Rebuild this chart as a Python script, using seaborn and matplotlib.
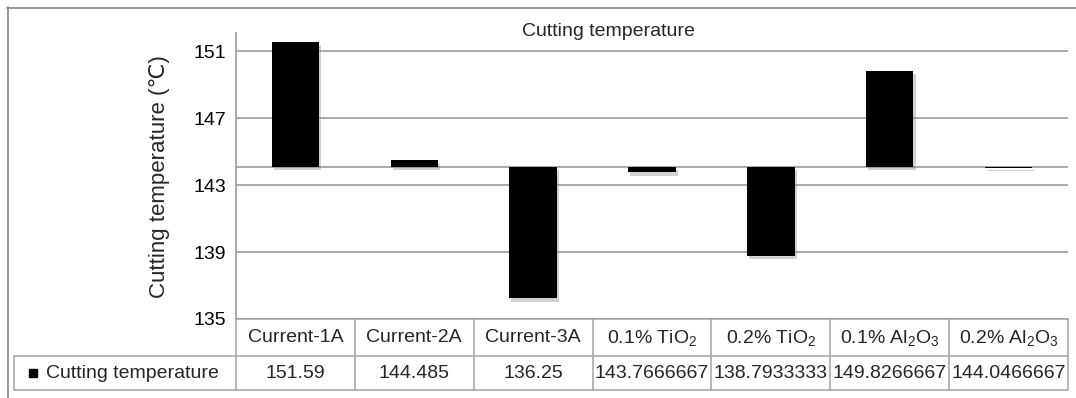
import numpy as np
import pandas as pd
import matplotlib
matplotlib.use("Agg")
import matplotlib.pyplot as plt
import matplotlib.patheffects as pe
import matplotlib.transforms as mtransforms
from matplotlib.lines import Line2D
from matplotlib.patches import Rectangle
import seaborn as sns

# ---- data ----
categories = ["Current-1A", "Current-2A", "Current-3A",
              "0.1% TiO$_2$", "0.2% TiO$_2$",
              "0.1% Al$_2$O$_3$", "0.2% Al$_2$O$_3$"]
temperatures = [151.59, 144.485, 136.25, 143.7666667,
                138.7933333, 149.8266667, 144.0466667]
value_labels = ["151.59", "144.485", "136.25", "143.7666667",
                "138.7933333", "149.8266667", "144.0466667"]
y_ticks = [135, 139, 143, 147, 151]
series_name = "Cutting temperature"
y_label = "Cutting temperature (\u2103)"
chart_title = "Cutting temperature"

# ---- style ----
sns.set_style("white")
plt.rcParams["font.family"] = ["Liberation Sans", "DejaVu Sans"]
plt.rcParams["mathtext.fontset"] = "custom"
plt.rcParams["mathtext.rm"] = "Liberation Sans"
plt.rcParams["mathtext.it"] = "Liberation Sans:italic"
plt.rcParams["mathtext.default"] = "regular"

GRID = "#a3a3a3"
FS = 14

W, H = 1076, 398
fig = plt.figure(figsize=(W / 100, H / 100), dpi=100)

def fx(px):
    return px / W

def fy(py):
    return 1 - py / H

ax_left, ax_right, ax_top, ax_bottom = 236, 1068, 33, 319
ax = fig.add_axes([fx(ax_left), fy(ax_bottom), fx(ax_right - ax_left),
                   fy(ax_top) - fy(ax_bottom)])

# bars hang from the horizontal axis, which crosses at the series mean
baseline = float(np.mean(temperatures))
df = pd.DataFrame({"category": categories,
                   "delta": np.array(temperatures) - baseline})

sns.barplot(data=df, x="category", y="delta", bottom=baseline,
            color="black", saturation=1, width=0.4, errorbar=None,
            ax=ax, zorder=3)

shadow = [pe.SimplePatchShadow(offset=(1.5, -2.5), shadow_rgbFace="#808080",
                               alpha=0.35), pe.Normal()]
for patch in ax.patches:
    patch.set_path_effects(shadow)
    patch.set_edgecolor("none")

ax.set_xlim(-0.5, len(categories) - 0.5)
ax.set_ylim(135, 152.1)
ax.set_yticks(y_ticks)
ax.set_yticklabels([str(t) for t in y_ticks], fontsize=FS)
ax.tick_params(axis="y", length=0, pad=7, colors="black")
ax.tick_params(axis="x", length=0, labelbottom=False)
ax.set_xlabel("")
ax.set_ylabel("")
ax.yaxis.grid(True, color=GRID, lw=1.3, zorder=0)
ax.xaxis.grid(False)
ax.set_axisbelow(True)
for s in ("top", "right", "bottom"):
    ax.spines[s].set_visible(False)
ax.spines["left"].set_color(GRID)
ax.spines["left"].set_linewidth(1.3)
ax.axhline(baseline, color=GRID, lw=1.3, zorder=2)

# title and axis label
fig.text(fx(608), fy(31), chart_title, ha="center", va="center", fontsize=FS)
fig.text(fx(160), fy(177), y_label, ha="center", va="center",
         rotation=90, fontsize=16)

# ---- data table under the plot ----
blend = mtransforms.blended_transform_factory(ax.transData, fig.transFigure)
row_top, row_mid, row_bot = 319, 356, 390
n = len(categories)
lw_t = 1.1

def hline(x0, x1, y, trans):
    fig.add_artist(Line2D([x0, x1], [fy(y), fy(y)], transform=trans,
                          color=GRID, lw=lw_t))

def vline(x, y0, y1, trans):
    fig.add_artist(Line2D([x, x], [fy(y0), fy(y1)], transform=trans,
                          color=GRID, lw=lw_t))

hline(-0.5, n - 0.5, row_top, blend)
hline(fx(14), fx(ax_left), row_mid, fig.transFigure)
hline(-0.5, n - 0.5, row_mid, blend)
hline(fx(14), fx(ax_left), row_bot, fig.transFigure)
hline(-0.5, n - 0.5, row_bot, blend)
vline(fx(14), row_mid, row_bot, fig.transFigure)
for i in range(n + 1):
    vline(i - 0.5, row_top, row_bot, blend)

for i, (cat, lab) in enumerate(zip(categories, value_labels)):
    fig.text(i, fy((row_top + row_mid) / 2), cat, transform=blend,
             ha="center", va="center", fontsize=FS)
    fig.text(i, fy((row_mid + row_bot) / 2), lab, transform=blend,
             ha="center", va="center", fontsize=FS)

# legend key in the table's row header
fig.add_artist(Rectangle((fx(29), fy(377)), fx(8), fy(369) - fy(377),
                         transform=fig.transFigure, color="black"))
fig.text(fx(46), fy((row_mid + row_bot) / 2), series_name,
         ha="left", va="center", fontsize=FS)

# chart area border
fig.add_artist(Line2D([fx(7), 1], [fy(7.5), fy(7.5)], transform=fig.transFigure,
                      color="#8f8f8f", lw=1.3))
fig.add_artist(Line2D([fx(7.5), fx(7.5)], [fy(7), 0], transform=fig.transFigure,
                      color="#8f8f8f", lw=1.3))

fig.savefig("out.png", dpi=100)
